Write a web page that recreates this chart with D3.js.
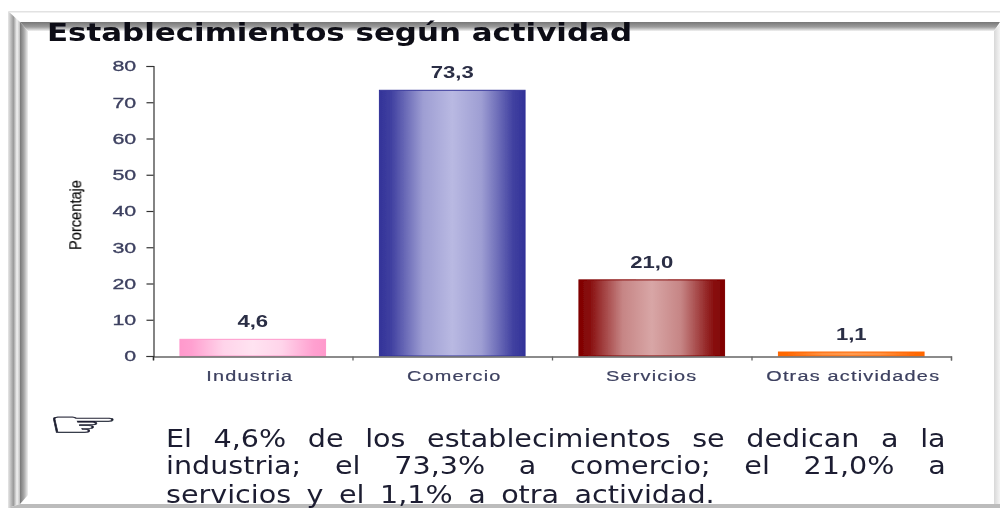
<!DOCTYPE html>
<html>
<head>
<meta charset="utf-8">
<script src="https://cdn.jsdelivr.net/npm/d3@7"></script>
<style>
    html, body { margin: 0; padding: 0; background: #fff; }
    svg { display: block; }
</style>
</head>
<body>
<script>
// chart data
var categories = ["Industria", "Comercio", "Servicios", "Otras actividades"];
var values = [4.6, 73.3, 21.0, 1.1];
var yTicks = [0, 10, 20, 30, 40, 50, 60, 70, 80];
var edgeColors = ["#ff99cc", "#333399", "#800000", "#ff6600"];
var midColors = ["#ffe3f1", "#b9b9e2", "#d8a6a6", "#ff9a50"];

var titleText = "Establecimientos según actividad";
var yTitle = "Porcentaje";
var noteLines = [
    "El 4,6% de los establecimientos se dedican a la",
    "industria; el 73,3% a comercio; el 21,0% a",
    "servicios y el 1,1% a otra actividad."
];

var w = 1000;
var h = 508;
var ink = "#3d4160";

var svg = d3.select("body")
    .append("svg")
    .attr("width", w)
    .attr("height", h);

var defs = svg.append("defs");

// soft look of the enlarged picture
defs.append("filter")
    .attr("id", "soft")
    .append("feGaussianBlur")
    .attr("stdDeviation", 0.5);

// returns a gradient id built from [offset, color] pairs
function gradient(id, stops, x2, y2) {
    var g = defs.append("linearGradient")
        .attr("id", id)
        .attr("x1", 0).attr("y1", 0)
        .attr("x2", x2).attr("y2", y2);
    stops.forEach(function(s) {
        g.append("stop").attr("offset", s[0]).attr("stop-color", s[1]);
    });
    return "url(#" + id + ")";
}

/**
 * Draws the bevelled picture frame.
 */
function drawFrame() {
    var outer = gradient("frameOuter", [[0, "#e8e8e8"], [0.45, "#9a9a9a"], [0.75, "#f2f2f2"], [1, "#bdbdbd"]], 1, 0);
    var inner = gradient("frameInner", [[0, "#777"], [0.5, "#a8a8a8"], [1, "#f0f0f0"]], 1, 0);
    var top = gradient("frameTop", [[0, "#777"], [0.55, "#9c9c9c"], [1, "#f2f2f2"]], 0, 1);
    var right = gradient("frameRight", [[0, "#d8d8d8"], [1, "#f4f4f4"]], 1, 0);

    var frame = svg.append("g");

    frame.append("path").attr("d", "M8,11 L1000,11 L1000,12.5 L10,12.5 Z").attr("fill", "#e2e2e2");
    frame.append("path").attr("d", "M8,11 L20,22 L20,504 L8,508 Z").attr("fill", outer);
    frame.append("path").attr("d", "M20,22 L28,31 L28,495 L20,504 Z").attr("fill", inner);
    frame.append("path").attr("d", "M20,22 L1000,22 L994,31 L28,31 Z").attr("fill", top);
    frame.append("path").attr("d", "M994,31 L1000,24 L1000,504 L994,504 Z").attr("fill", right);
    frame.append("path").attr("d", "M8,508 L20,504 L1000,504 L1000,508 Z").attr("fill", "#bcbcbc");
}

/**
 * Draws bars, axes and labels.
 */
function drawChart() {
    var x = d3.scaleBand()
        .domain(categories)
        .range([153, 951])
        .paddingInner(0.27)
        .paddingOuter(0.135);

    var y = d3.scaleLinear()
        .domain([0, 80])
        .range([356, 66]);

    // category boundaries, for the x tick marks
    var xEdges = d3.scaleLinear()
        .domain([0, categories.length])
        .range([153, 951]);

    var chart = svg.append("g").attr("filter", "url(#soft)");

    // bars
    chart.selectAll("rect.bar")
        .data(values)
        .enter()
        .append("rect")
        .attr("class", "bar")
        .attr("x", function(d, i) { return x(categories[i]); })
        .attr("y", function(d) { return y(d); })
        .attr("width", x.bandwidth())
        .attr("height", function(d) { return y(0) - y(d); })
        .attr("stroke-width", 1)
        .attr("stroke", function(d, i) { return edgeColors[i]; })
        .attr("fill", function(d, i) {
            var mix = d3.interpolateRgb(edgeColors[i], midColors[i]);
            return gradient("bar" + i, [
                [0, edgeColors[i]], [0.08, mix(0.1)], [0.3, mix(0.8)], [0.5, midColors[i]],
                [0.7, mix(0.8)], [0.92, mix(0.1)], [1, edgeColors[i]]
            ], 1, 0);
        });

    // value labels
    chart.selectAll("text.value")
        .data(values)
        .enter()
        .append("text")
        .attr("class", "value")
        .attr("transform", function(d, i) {
            return "translate(" + (x(categories[i]) + x.bandwidth() / 2) + "," + (y(d) - 12) + ") scale(1.38,1)";
        })
        .attr("text-anchor", "middle")
        .attr("font-family", "Liberation Sans")
        .attr("font-size", 16)
        .attr("font-weight", "bold")
        .attr("fill", "#2a2d44")
        .text(function(d) { return d.toFixed(1).replace(".", ","); });

    // x axis, ticks on the boundaries
    var xTickAxis = chart.append("g")
        .attr("transform", "translate(0,356.5)")
        .call(d3.axisBottom(xEdges).tickValues(d3.range(categories.length + 1)).tickSize(4).tickFormat(""));
    xTickAxis.selectAll("path, line").attr("stroke", "#666").attr("stroke-width", 1.3);

    // x axis labels
    var labelNudge = [-3, 2, 0, 2];
    var xAxis = chart.append("g")
        .attr("transform", "translate(0,356)")
        .call(d3.axisBottom(x).tickSize(0).tickPadding(15));
    xAxis.select(".domain").remove();
    xAxis.selectAll("text")
        .attr("font-family", "Liberation Sans")
        .attr("font-size", 14)
        .attr("fill", ink)
        .attr("stroke", ink)
        .attr("stroke-width", 0.2)
        .attr("letter-spacing", 0.85)
        .attr("transform", function(d, i) {
            return "translate(" + labelNudge[i] + ",0) scale(1.42,1)";
        });

    // y axis
    var yAxis = chart.append("g")
        .attr("transform", "translate(153.5,0)")
        .call(d3.axisLeft(y).tickValues(yTicks).tickSize(7).tickSizeOuter(7).tickPadding(10));
    yAxis.selectAll("path, line").attr("stroke", "#333").attr("stroke-width", 1.2);
    yAxis.selectAll("text")
        .attr("font-family", "Liberation Sans")
        .attr("font-size", 15.5)
        .attr("fill", ink)
        .attr("stroke", ink)
        .attr("stroke-width", 0.35)
        .attr("transform", "scale(1.38,1)")
        .attr("x", -12.5);
    yAxis.append("line")
        .attr("y1", y(0))
        .attr("y2", y(0) + 4)
        .attr("stroke", "#333")
        .attr("stroke-width", 1.2);

    // y axis title
    chart.append("text")
        .attr("transform", "translate(81,215) rotate(-90) scale(1,1.05)")
        .attr("text-anchor", "middle")
        .attr("font-family", "Liberation Sans")
        .attr("font-size", 15)
        .attr("fill", "#111")
        .attr("stroke", "#111")
        .attr("stroke-width", 0.2)
        .attr("textLength", 70)
        .attr("lengthAdjust", "spacingAndGlyphs")
        .text(yTitle);
}

/**
 * Title, pointing hand and the justified note below the chart.
 */
function drawTexts() {
    var texts = svg.append("g").attr("filter", "url(#soft)");

    texts.append("text")
        .attr("x", 47)
        .attr("y", 41)
        .attr("font-family", "DejaVu Sans")
        .attr("font-weight", "bold")
        .attr("font-size", 25)
        .attr("fill", "#0a0a14")
        .attr("textLength", 585)
        .attr("lengthAdjust", "spacingAndGlyphs")
        .text(titleText);

    texts.append("text")
        .attr("x", 46)
        .attr("y", 436)
        .attr("font-family", "DejaVu Sans")
        .attr("font-size", 34)
        .attr("fill", "#1c1e30")
        .attr("stroke", "#1c1e30")
        .attr("stroke-width", 0.3)
        .attr("textLength", 74)
        .attr("lengthAdjust", "spacingAndGlyphs")
        .text("\u261E");

    // last line sets the stretch, every line is then justified to its right edge
    var noteX = 166;
    var lineRight = [946, 946, 715];
    var lineY = [447, 474, 503];

    var nodes = noteLines.map(function(line, i) {
        return texts.append("text")
            .attr("font-family", "DejaVu Sans")
            .attr("font-size", 25.5)
            .attr("fill", "#1c1e30")
            .text(line);
    });

    var stretch = 0.93 * (lineRight[2] - noteX) / nodes[2].node().getComputedTextLength();

    nodes.forEach(function(t, i) {
        var gaps = noteLines[i].split(" ").length - 1;
        var extra = (lineRight[i] - noteX) / stretch - t.node().getComputedTextLength();
        t.attr("word-spacing", extra / gaps)
            .attr("transform", "translate(" + noteX + "," + lineY[i] + ") scale(" + stretch + ",1)");
    });
}

drawFrame();
drawChart();
drawTexts();
</script>
</body>
</html>
